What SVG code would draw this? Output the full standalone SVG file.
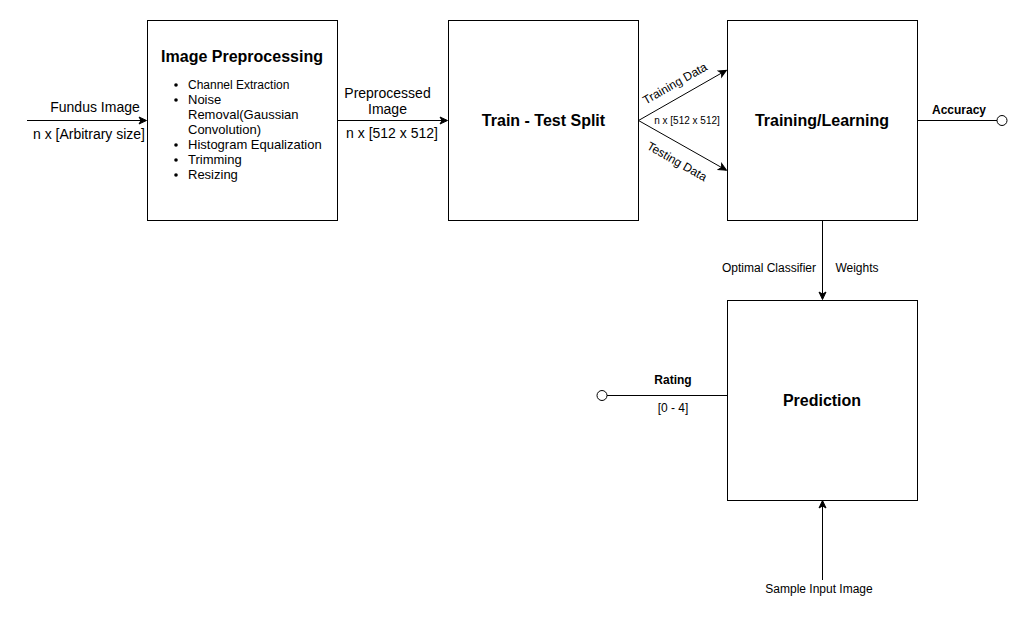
<svg xmlns="http://www.w3.org/2000/svg" width="1028" height="620" viewBox="0 0 1028 620">
<defs>
<marker id="arr" markerWidth="10" markerHeight="10" refX="8" refY="5" orient="auto" markerUnits="userSpaceOnUse">
<path d="M1,1.5 L8.5,5 L1,8.5 L3,5 Z" fill="#000" stroke="#000" stroke-width="1"/>
</marker>
<style>
text{font-family:"Liberation Sans",Arial,sans-serif;fill:#000}
.box{fill:#fff;stroke:#000;stroke-width:1}
.ln{stroke:#000;stroke-width:1;fill:none}
.title{font-size:16px;font-weight:bold;text-anchor:middle}
.lbl{font-size:14px;text-anchor:middle}
.sm{font-size:12px;text-anchor:middle}
.xs{font-size:10px;text-anchor:middle}
.li{font-size:13px}
.li12{font-size:12px}
</style>
</defs>
<rect width="1028" height="620" fill="#fff"/>
<g id="connectors">
<line class="ln" x1="27" y1="120.5" x2="146" y2="120.5" marker-end="url(#arr)"/>
<line class="ln" x1="337.5" y1="120.5" x2="447" y2="120.5" marker-end="url(#arr)"/>
<line class="ln" x1="638.5" y1="120.5" x2="726" y2="70.5" marker-end="url(#arr)"/>
<line class="ln" x1="638.5" y1="120.5" x2="726" y2="170" marker-end="url(#arr)"/>
<line class="ln" x1="822.5" y1="220.5" x2="822.5" y2="299" marker-end="url(#arr)"/>
<line class="ln" x1="822.5" y1="580" x2="822.5" y2="501" marker-end="url(#arr)"/>
<line class="ln" x1="917.5" y1="120.5" x2="997" y2="120.5"/>
<circle class="ln" cx="1002" cy="120.5" r="5" fill="#fff"/>
<line class="ln" x1="607" y1="395.5" x2="727.5" y2="395.5"/>
<circle class="ln" cx="602" cy="395.5" r="5" fill="#fff"/>
<text class="lbl" x="95" y="112">Fundus Image</text>
<text class="lbl" x="89" y="139">n x [Arbitrary size]</text>
<text class="lbl" x="387.5" y="98">Preprocessed</text>
<text class="lbl" x="387.5" y="114">Image</text>
<text class="lbl" x="392" y="138">n x [512 x 512]</text>
<text class="sm" transform="translate(677,87) rotate(-29.5)">Training Data</text>
<text class="xs" x="687" y="124">n x [512 x 512]</text>
<text class="sm" transform="translate(675,165) rotate(29.5)">Testing Data</text>
<text class="sm" x="959" y="114" font-weight="bold">Accuracy</text>
<text class="sm" x="769" y="272">Optimal Classifier</text>
<text class="sm" x="857" y="272">Weights</text>
<text class="sm" x="673" y="384" font-weight="bold">Rating</text>
<text class="sm" x="673" y="412">[0 - 4]</text>
<text class="sm" x="819" y="593">Sample Input Image</text>
</g>
<g id="preprocessing">
<rect class="box" x="147.5" y="20.5" width="190" height="200"/>
<text class="title" x="242" y="62">Image Preprocessing</text>
<circle cx="176" cy="85" r="1.8"/>
<text class="li12" x="188" y="89">Channel Extraction</text>
<circle cx="176" cy="100" r="1.8"/>
<text class="li" x="188" y="104">Noise</text>
<text class="li" x="188" y="119">Removal(Gaussian</text>
<text class="li" x="188" y="134">Convolution)</text>
<circle cx="176" cy="145" r="1.8"/>
<text class="li" x="188" y="149">Histogram Equalization</text>
<circle cx="176" cy="160" r="1.8"/>
<text class="li" x="188" y="164">Trimming</text>
<circle cx="176" cy="175" r="1.8"/>
<text class="li" x="188" y="179">Resizing</text>
</g>
<g id="split">
<rect class="box" x="448.5" y="20.5" width="190" height="200"/>
<text class="title" x="543.5" y="126">Train - Test Split</text>
</g>
<g id="training">
<rect class="box" x="727.5" y="20.5" width="190" height="200"/>
<text class="title" x="822" y="126">Training/Learning</text>
</g>
<g id="prediction">
<rect class="box" x="727.5" y="300.5" width="190" height="200"/>
<text class="title" x="822" y="406">Prediction</text>
</g>
</svg>
